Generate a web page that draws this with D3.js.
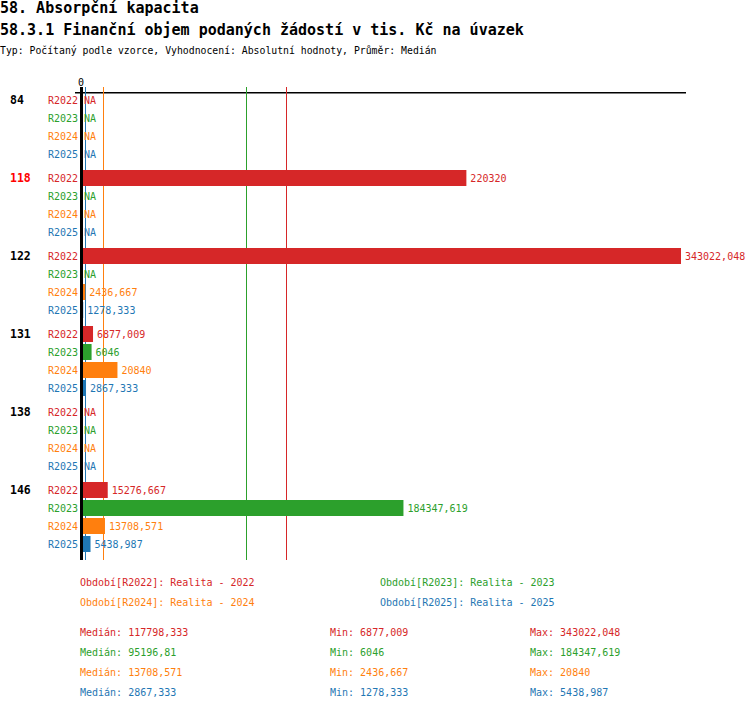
<!DOCTYPE html>
<html>
<head>
<meta charset="utf-8">
<script src="https://cdn.jsdelivr.net/npm/d3@7"></script>
<style>
  body { margin: 0; background: #fff; }
  text { font-family: "DejaVu Sans Mono", monospace; }
</style>
</head>
<body>
<div id="chart"></div>
<script>
// data
var groups = ["84", "118", "122", "131", "138", "146"];
var highlighted = "118";
var series = ["R2022", "R2023", "R2024", "R2025"];
var seriesNames = ["Realita - 2022", "Realita - 2023", "Realita - 2024", "Realita - 2025"];
var colors = ["#d62728", "#2ca02c", "#ff7f0e", "#1f77b4"];

var valuesR2022 = [null, 220320, 343022.048, 6877.009, null, 15276.667];
var valuesR2023 = [null, null, null, 6046, null, 184347.619];
var valuesR2024 = [null, null, 2436.667, 20840, null, 13708.571];
var valuesR2025 = [null, null, 1278.333, 2867.333, null, 5438.987];
var values = [valuesR2022, valuesR2023, valuesR2024, valuesR2025];

var medians = [117798.333, 95196.81, 13708.571, 2867.333];
var mins = [6877.009, 6046, 2436.667, 1278.333];
var maxs = [343022.048, 184347.619, 20840, 5438.987];

drawChart();
function drawChart(){
    var W = 750, H = 710;
    var svg = d3.select("#chart")
        .append("svg")
        .attr("width", W)
        .attr("height", H);

    // titles
    svg.append("text").attr("x", 0).attr("y", 13)
        .attr("font-size", 15).attr("font-weight", "bold").text("58. Absorpční kapacita");
    svg.append("text").attr("x", 0).attr("y", 35)
        .attr("font-size", 15).attr("font-weight", "bold").text("58.3.1 Finanční objem podaných žádostí v tis. Kč na úvazek");
    svg.append("text").attr("x", 0).attr("y", 54)
        .attr("font-size", 9.8).text("Typ: Počítaný podle vzorce, Vyhodnocení: Absolutní hodnoty, Průměr: Medián");

    var x = d3.scaleLinear()
        .domain([0, d3.max(maxs)])
        .range([81, 681]);

    var top = 91;
    var y0 = d3.scaleBand()
        .domain(groups)
        .range([top, top + groups.length * 78]);
    var y1 = d3.scaleBand()
        .domain(series)
        .range([0, 72]);
    var bottom = top + groups.length * 78 + 1;

    // top axis line and zero label
    svg.append("rect")
        .attr("x", 75).attr("y", 92)
        .attr("width", 611).attr("height", 1.5)
        .attr("fill", "#000");
    svg.append("text")
        .attr("x", x(0)).attr("y", 86)
        .attr("text-anchor", "middle")
        .attr("font-size", 10)
        .text("0");

    // median lines
    svg.append("g").selectAll("rect")
        .data(medians)
        .enter()
        .append("rect")
        .attr("x", function(d) { return Math.floor(x(d)) - 1; })
        .attr("y", 87)
        .attr("width", 1)
        .attr("height", bottom - 87)
        .attr("shape-rendering", "crispEdges")
        .attr("fill", function(d, i) { return colors[i]; });

    var fmt = function(v) {
        var s = String(Math.round(v * 1000) / 1000);
        return s.replace(".", ",");
    };

    // rows
    var rows = [];
    groups.forEach(function(g, gi) {
        series.forEach(function(s, si) {
            rows.push({group: g, series: s, si: si, value: values[si][gi]});
        });
    });

    var gRows = svg.append("g");
    gRows.selectAll("rect")
        .data(rows.filter(function(d) { return d.value != null; }))
        .enter()
        .append("rect")
        .attr("x", x(0))
        .attr("y", function(d) { return y0(d.group) + y1(d.series) + 1; })
        .attr("width", function(d) { return Math.max(1, x(d.value) - x(0)); })
        .attr("height", 16)
        .attr("fill", function(d) { return colors[d.si]; });

    gRows.selectAll("text.val")
        .data(rows)
        .enter()
        .append("text")
        .attr("class", "val")
        .attr("x", function(d) { return d.value == null ? 84 : x(d.value) + 4; })
        .attr("y", function(d) { return y0(d.group) + y1(d.series) + 13; })
        .attr("font-size", 10)
        .attr("fill", function(d) { return colors[d.si]; })
        .text(function(d) { return d.value == null ? "NA" : fmt(d.value); });

    gRows.selectAll("text.ser")
        .data(rows)
        .enter()
        .append("text")
        .attr("class", "ser")
        .attr("x", 78)
        .attr("y", function(d) { return y0(d.group) + y1(d.series) + 13; })
        .attr("text-anchor", "end")
        .attr("font-size", 10)
        .attr("fill", function(d) { return colors[d.si]; })
        .text(function(d) { return d.series; });

    svg.append("g").selectAll("text")
        .data(groups)
        .enter()
        .append("text")
        .attr("x", 10)
        .attr("y", function(d) { return y0(d) + 13; })
        .attr("font-size", 11.5)
        .attr("font-weight", "bold")
        .attr("fill", function(d) { return d == highlighted ? "#ff0000" : "#000"; })
        .text(function(d) { return d; });

    // zero line
    svg.append("rect")
        .attr("x", 80).attr("y", 87)
        .attr("width", 3).attr("height", bottom - 87)
        .attr("fill", "#000");

    // legend
    var legX = [80, 380];
    svg.append("g").selectAll("text")
        .data(series)
        .enter()
        .append("text")
        .attr("x", function(d, i) { return legX[i % 2]; })
        .attr("y", function(d, i) { return 586 + Math.floor(i / 2) * 20; })
        .attr("font-size", 10)
        .attr("fill", function(d, i) { return colors[i]; })
        .text(function(d, i) { return "Období[" + d + "]: " + seriesNames[i]; });

    // stats
    var stats = svg.append("g");
    series.forEach(function(s, i) {
        var yy = 636 + i * 20;
        stats.append("text").attr("x", 80).attr("y", yy).attr("font-size", 10)
            .attr("fill", colors[i]).text("Medián: " + fmt(medians[i]));
        stats.append("text").attr("x", 330).attr("y", yy).attr("font-size", 10)
            .attr("fill", colors[i]).text("Min: " + fmt(mins[i]));
        stats.append("text").attr("x", 530).attr("y", yy).attr("font-size", 10)
            .attr("fill", colors[i]).text("Max: " + fmt(maxs[i]));
    });
}
</script>
</body>
</html>
